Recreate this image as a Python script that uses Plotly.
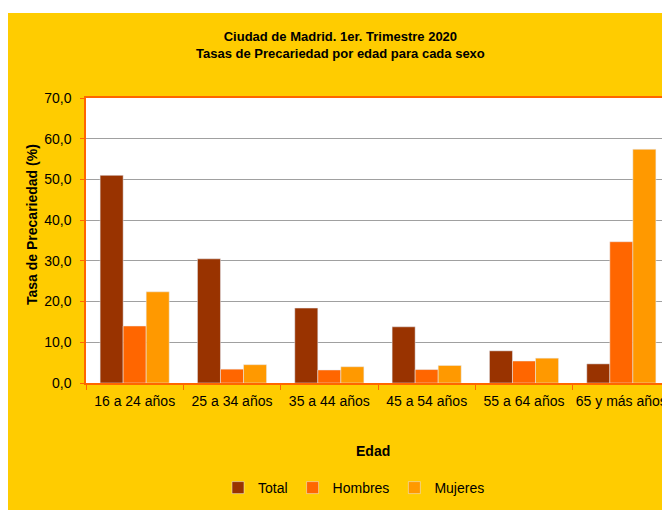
import plotly.graph_objects as go

# datos
edades = ["16 a 24 años", "25 a 34 años", "35 a 44 años",
          "45 a 54 años", "55 a 64 años", "65 y más años"]
total = [51.0, 30.5, 18.4, 13.8, 7.9, 4.7]
hombres = [14.0, 3.4, 3.2, 3.3, 5.4, 34.7]
mujeres = [22.4, 4.5, 4.0, 4.3, 6.1, 57.4]

W, H = 670, 510
L, R, T, B = 78, 8, 90, 135
PW = W - L - R
PH = H - T - B


def px(x):
    return (x - L) / PW


def py(y):
    return (H - B - y) / PH


FONT = "Liberation Sans, Arial, sans-serif"
NARANJA = "#FF6600"

fig = go.Figure()
fig.add_trace(go.Bar(x=edades, y=total, name="Total", marker_color="#993300"))
fig.add_trace(go.Bar(x=edades, y=hombres, name="Hombres", marker_color="#FF6600"))
fig.add_trace(go.Bar(x=edades, y=mujeres, name="Mujeres", marker_color="#FF9900"))

fig.update_layout(
    width=W, height=H,
    margin=dict(l=L, r=R, t=T, b=B, autoexpand=False),
    paper_bgcolor="#FFCC00",
    plot_bgcolor="white",
    font=dict(family=FONT, size=14, color="black"),
    separators=",.",
    barmode="group",
    bargap=0.29,
    bargroupgap=0,
    showlegend=True,
    legend=dict(orientation="h", x=px(346), xanchor="center",
                y=py(480), yanchor="middle", bgcolor="rgba(0,0,0,0)",
                font=dict(size=14), itemwidth=30, traceorder="normal"),
)

fig.update_xaxes(
    type="category", showline=True, linecolor=NARANJA, linewidth=1.5, mirror=True,
    ticks="outside", tickson="boundaries", ticklen=5, tickcolor=NARANJA,
    showgrid=False, tickfont=dict(size=14), tickangle=0, automargin=False,
    ticklabelstandoff=4,
)
fig.update_yaxes(
    range=[0, 70], dtick=10, tickformat=".1f",
    showline=True, linecolor=NARANJA, linewidth=1.5, mirror=True,
    ticks="outside", ticklen=4, tickcolor=NARANJA,
    showgrid=True, gridcolor="#A0A0A0", gridwidth=1,
    tickfont=dict(size=14), zeroline=False, automargin=False,
    ticklabelstandoff=6,
)

anotaciones = [
    dict(text="<b>Ciudad de Madrid. 1er. Trimestre 2020<br>Tasas de Precariedad por edad para cada sexo</b>",
         x=px(332.5), y=py(37), font=dict(size=13)),
    dict(text="<b>Tasa de Precariedad (%)</b>", x=px(24), y=py(217),
         textangle=-90, font=dict(size=14)),
    dict(text="<b>Edad</b>", x=px(365), y=py(443), font=dict(size=14)),
]
for a in anotaciones:
    fig.add_annotation(xref="paper", yref="paper", showarrow=False,
                       xanchor="center", yanchor="middle", **a)

# franja blanca arriba
fig.add_shape(type="rect", xref="paper", yref="paper", x0=px(-5), x1=px(W + 5),
              y0=py(5), y1=py(-5), fillcolor="white", line_width=0, layer="above")

fig.write_html("out.html")
